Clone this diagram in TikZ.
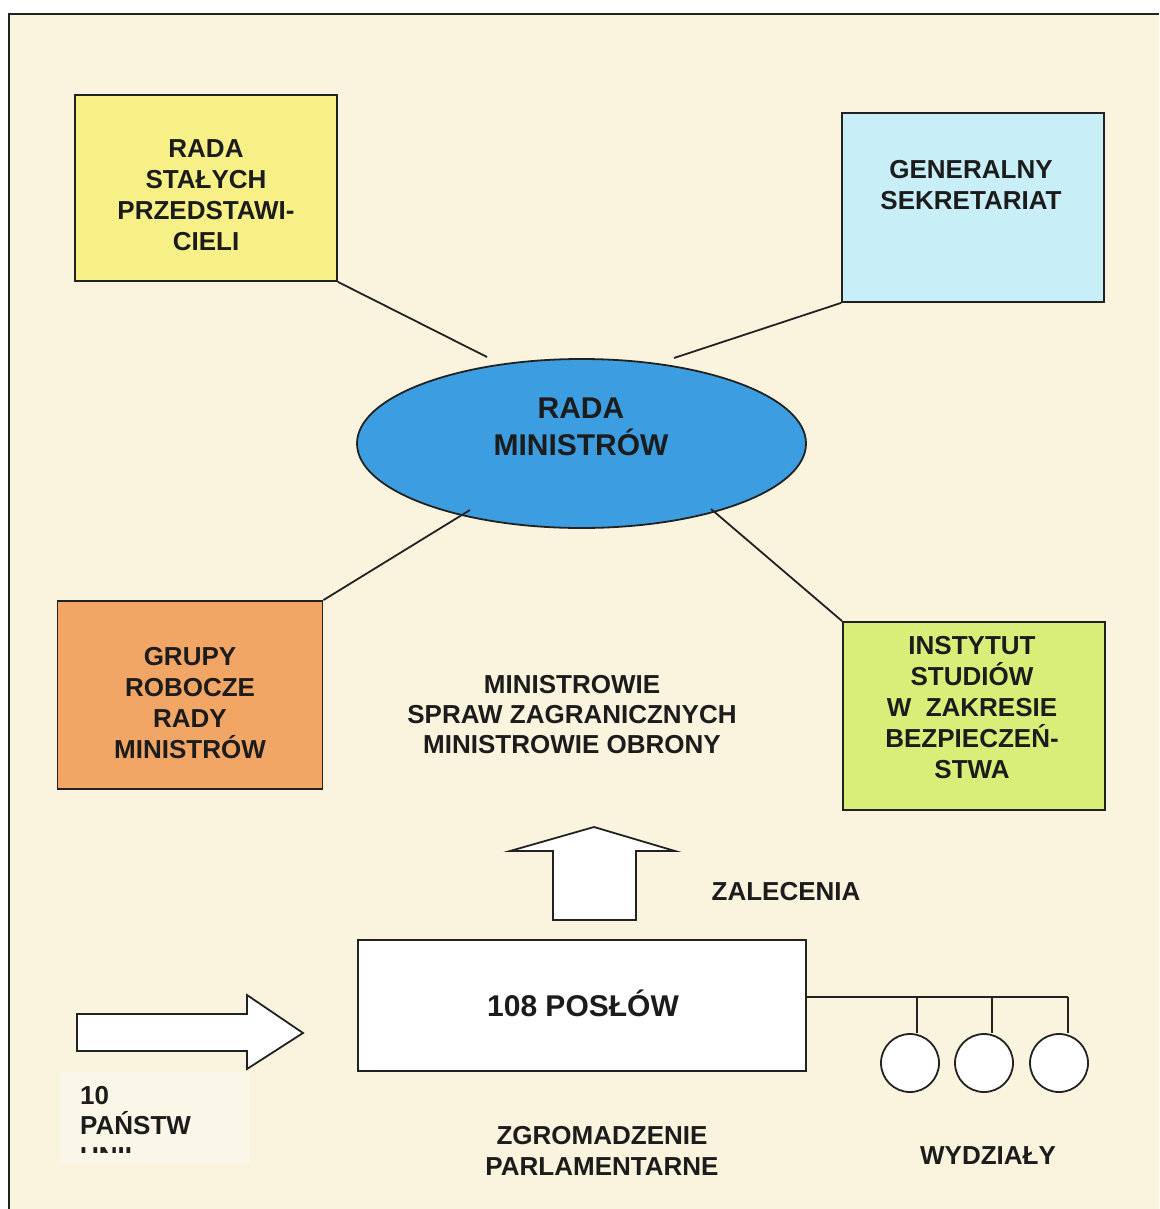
\documentclass[tikz,border=0pt]{standalone}
\usepackage{fontspec}
\setmainfont{Liberation Sans}
\usetikzlibrary{shapes.geometric}
\definecolor{cream}{HTML}{FAF4DE}
\definecolor{panel}{HTML}{FBF7E8}
\definecolor{yel}{HTML}{F7F086}
\definecolor{cya}{HTML}{C8EFF8}
\definecolor{ora}{HTML}{F2A666}
\definecolor{grn}{HTML}{D8EE78}
\definecolor{blu}{HTML}{3C9EE0}
\definecolor{txtc}{HTML}{1C1C1C}
\definecolor{ln}{HTML}{222222}
\begin{document}
\begin{tikzpicture}[x=1pt,y=-1pt,
  box/.style={draw=ln, line width=1.8pt, rectangle, inner sep=0pt},
  lbl/.style={font=\bfseries\fontsize{26}{31}\selectfont, text=txtc, align=center, anchor=base, inner sep=0pt},
  big/.style={font=\bfseries\fontsize{30}{37}\selectfont, text=txtc, align=center, anchor=base, inner sep=0pt},
  link/.style={draw=ln, line width=1.8pt},
  shape arrow/.style={draw=ln, line width=1.8pt, fill=white, line join=miter},
  wcirc/.style={draw=ln, line width=1.8pt, fill=white, circle, minimum size=58pt, inner sep=0pt}]
\useasboundingbox (0,0) rectangle (1159,1209);
\fill[white] (0,0) rectangle (1159,1209);
\fill[cream] (9,14) rectangle (1159,1209);
\draw[ln, line width=2pt] (9,1209) -- (9,14) -- (1159,14);

% boxes
\node[box, fill=yel, minimum width=262pt, minimum height=186pt] (rsp) at (206,188) {};
\node[box, fill=cya, minimum width=262pt, minimum height=189pt] (gs) at (973,207.5) {};
\node[box, fill=ora, minimum width=265pt, minimum height=188pt] (grm) at (190,695) {};
\node[box, fill=grn, minimum width=262pt, minimum height=188pt] (isb) at (974,716) {};
\node[draw=ln, line width=1.8pt, fill=blu, ellipse, minimum width=449pt, minimum height=169pt, inner sep=0pt] (rm) at (581.5,443.5) {};

% (base anchor = baseline of the last line)
\node[lbl] (rspt) at (206,250.3) {RADA\\STAŁYCH\\PRZEDSTAWI-\\CIELI};
\node[lbl] (gst) at (971,209.3) {GENERALNY\\SEKRETARIAT};
\node[lbl] (grmt) at (190,758.3) {GRUPY\\ROBOCZE\\RADY\\MINISTRÓW};
\node[lbl] (ist) at (972,778.3) {INSTYTUT\\STUDIÓW\\W\ \ ZAKRESIE\\BEZPIECZEŃ-\\STWA};
\node[big] (rmt) at (581,455.7) {RADA\\MINISTRÓW};

% connectors
\coordinate (c1) at (487,357);
\coordinate (c2) at (674,358);
\coordinate (c3) at (470,510);
\coordinate (c4) at (711,509);
\draw[link] (rsp.south east) -- (c1);
\draw[link] (gs.south west) -- (c2);
\draw[link] (grm.north east) -- (c3);
\draw[link] (isb.north west) -- (c4);

% middle text
\node[lbl, font=\bfseries\fontsize{26}{30}\selectfont] (mid) at (572,753.3) {MINISTROWIE\\SPRAW ZAGRANICZNYCH\\MINISTROWIE OBRONY};

% up arrow
\draw[shape arrow] (553,920) -- (553,851) -- (510,851) -- (594,827) -- (675,851) -- (636,851) -- (636,920) -- cycle;
\node[lbl] (zal) at (786,900.3) {ZALECENIA};

% assembly box
\node[box, fill=white, minimum width=448pt, minimum height=131pt] (pos) at (582,1005.5) {};
\node[big] (post) at (583,1016.7) {108 POSŁÓW};

% right arrow
\draw[shape arrow] (77,1014) -- (247,1014) -- (247,995) -- (303,1033) -- (247,1069) -- (247,1051) -- (77,1051) -- cycle;

% 10 panstw panel
\fill[panel] (60,1072) rectangle (250,1163);
\node[lbl, anchor=base west] (p10) at (80,1104.3) {10};
\node[lbl, anchor=base west] (p20) at (80,1134.3) {PAŃSTW};
\begin{scope}
  \clip (60,1072) rectangle (250,1152);
  \node[lbl, anchor=base west] (p30) at (80,1165) {UNII};
\end{scope}

\node[lbl] (zgr) at (602,1175.3) {ZGROMADZENIE\\PARLAMENTARNE};

% wydzialy
\node[wcirc] (w1) at (910,1063) {};
\node[wcirc] (w2) at (984,1063) {};
\node[wcirc] (w3) at (1059,1063) {};
\coordinate (b0) at (pos.east |- 0,997);
\coordinate (b1) at (917,997);
\coordinate (b2) at (992,997);
\coordinate (b3) at (1068,997);
\draw[link] (b0) -- (b3);
\draw[link] (b1) -- (b1 |- w1.north);
\draw[link] (b2) -- (b2 |- w2.north);
\draw[link] (b3) -- (b3 |- w3.north);
\node[lbl] (wyd) at (988,1164.3) {WYDZIAŁY};
\end{tikzpicture}
\end{document}
